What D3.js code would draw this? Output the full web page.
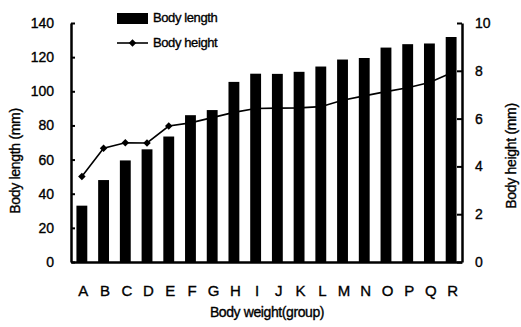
<!DOCTYPE html>
<html><head><meta charset="utf-8">
<script src="https://cdn.jsdelivr.net/npm/d3@7"></script>
<style>
body{margin:0;background:#fff;}
text{font-family:"Liberation Sans",Arial,sans-serif;fill:#000;stroke:#000;stroke-width:0.35px;}
</style></head>
<body><svg id="c" width="521" height="327"></svg>
<script>
const categories = ["A","B","C","D","E","F","G","H","I","J","K","L","M","N","O","P","Q","R"];
const bodyLength = [33,48,59.5,66,73.5,86,89,105.5,110.3,110.2,111.4,114.5,118.6,119.5,125.6,127.6,128,131.8];
const bodyHeight = [3.58,4.76,4.99,4.98,5.69,5.82,6.04,6.26,6.42,6.44,6.45,6.5,6.77,6.95,7.13,7.29,7.51,7.91];
const leftTicks = [0,20,40,60,80,100,120,140];
const rightTicks = [0,2,4,6,8,10];

const svg = d3.select("#c");
const L = 71, R = 462, T = 23, B = 262;
const x = d3.scaleBand().domain(categories).range([L,R]).paddingInner(0.5).paddingOuter(0.25);
const yL = d3.scaleLinear().domain([0,140]).range([B,T]);
const yR = d3.scaleLinear().domain([0,10]).range([B,T]);

// line behind bars
const line = d3.line().x((d,i)=>x(categories[i])+x.bandwidth()/2).y(d=>yR(d));
svg.append("path").datum(bodyHeight).attr("d",line).attr("fill","none").attr("stroke","#000").attr("stroke-width",1.6);
const diamond = d3.symbol().type(d3.symbolDiamond2).size(36);
svg.selectAll(".pt").data(bodyHeight).enter().append("path")
  .attr("d",diamond)
  .attr("transform",(d,i)=>`translate(${x(categories[i])+x.bandwidth()/2},${yR(d)})`)
  .attr("fill","#000");

// bars
svg.selectAll(".bar").data(bodyLength).enter().append("rect")
  .attr("x",(d,i)=>x(categories[i])).attr("width",x.bandwidth())
  .attr("y",d=>yL(d)).attr("height",d=>B-yL(d)).attr("fill","#000");

// axes
const axL = svg.append("g").attr("transform",`translate(${L},0)`)
  .call(d3.axisLeft(yL).tickValues(leftTicks).tickSizeInner(-4).tickSizeOuter(0).tickPadding(17));
const axR = svg.append("g").attr("transform",`translate(${R},0)`)
  .call(d3.axisRight(yR).tickValues(rightTicks).tickSizeInner(-5).tickSizeOuter(0).tickPadding(13));
[axL,axR].forEach(a=>{
  a.select(".domain").attr("stroke-width",2.5);
  a.selectAll(".tick line").attr("stroke-width",2);
  a.selectAll("text").attr("font-size",14).attr("font-family","Liberation Sans, Arial");
});
const axB = svg.append("g").attr("transform",`translate(0,${B})`)
  .call(d3.axisBottom(x).tickSize(0).tickPadding(23));
axB.select(".domain").attr("stroke-width",2.5);
axB.selectAll("text").attr("font-size",15).attr("dx",1.5).attr("font-family","Liberation Sans, Arial");

// titles
svg.append("text").attr("transform","translate(20,161) rotate(-90)").attr("text-anchor","middle")
  .attr("font-size",14).attr("letter-spacing",-0.3).text("Body length (mm)");
svg.append("text").attr("transform","translate(516,156) rotate(-90)").attr("text-anchor","middle")
  .attr("font-size",14).attr("letter-spacing",-0.3).text("Body height (mm)");
svg.append("text").attr("x",267).attr("y",317).attr("text-anchor","middle")
  .attr("font-size",14).attr("letter-spacing",-0.4).text("Body weight(group)");

// legend
svg.append("rect").attr("x",117).attr("y",13).attr("width",31).attr("height",11).attr("fill","#000");
svg.append("text").attr("x",153).attr("y",22).attr("font-size",13).attr("letter-spacing",-0.4).text("Body length");
svg.append("line").attr("x1",117).attr("x2",148).attr("y1",43).attr("y2",43).attr("stroke","#000").attr("stroke-width",1.6);
svg.append("path").attr("d",diamond).attr("transform","translate(132.5,43)").attr("fill","#000");
svg.append("text").attr("x",153).attr("y",47).attr("font-size",13).attr("letter-spacing",-0.4).text("Body height");
</script></body></html>
